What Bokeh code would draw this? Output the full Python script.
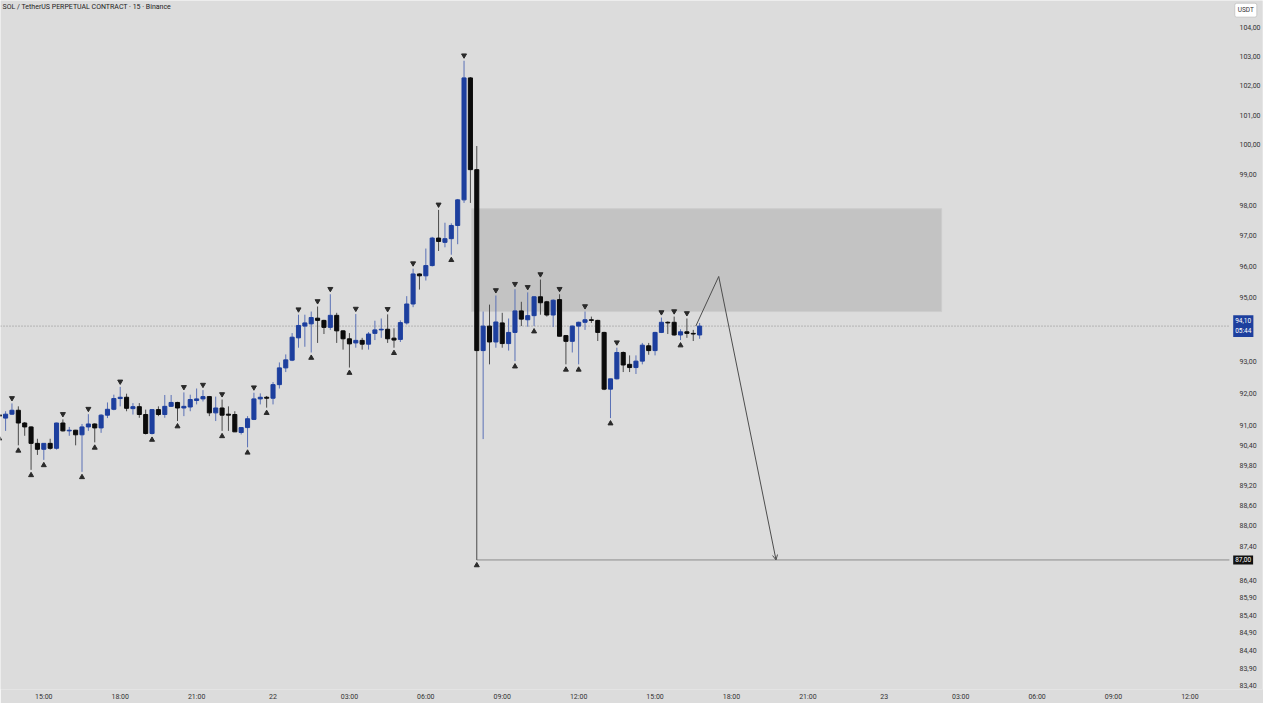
from bokeh.plotting import figure
from bokeh.models import FixedTicker, CustomJSTickFormatter, Label, Arrow, OpenHead, ColumnDataSource
from bokeh.embed import file_html
from bokeh.resources import INLINE

# ---------------- data ----------------
title_text = "SOL / TetherUS PERPETUAL CONTRACT \u00b7 15 \u00b7 Binance"
first_candle_hour = 13.25      # hours since 21st 00:00 (21st 13:15)
candle_step = 0.25             # 15 minutes

opens = [91.34, 91.24, 91.36, 91.48, 91.09, 90.97, 90.47, 90.29, 90.47, 90.32,
         91.09, 90.85, 90.87, 90.73, 90.97, 91.06, 90.94, 91.33, 91.51, 91.84,
         91.88, 91.53, 91.59, 91.35, 90.77, 91.50, 91.35, 91.60, 91.72, 91.55,
         91.58, 91.78, 91.83, 91.90, 91.40, 91.55, 91.36, 91.35, 90.80, 90.95,
         91.20, 91.83, 91.88, 91.85, 92.27, 92.79, 93.03, 93.73, 94.10, 94.17,
         94.35, 94.28, 94.06, 94.44, 93.95, 93.70, 93.57, 93.65, 93.53, 93.87,
         93.98, 94.00, 93.72, 93.68, 94.20, 94.80, 95.76, 95.70, 96.03, 96.92,
         96.78, 96.90, 97.33, 98.17, 102.27, 99.17, 93.33, 94.10, 93.60, 94.20,
         93.55, 93.90, 94.58, 94.30, 94.43, 95.03, 94.87, 94.45, 94.94, 93.80,
         93.62, 94.10, 94.22, 94.30, 94.28, 93.90, 92.13, 92.45, 93.27, 92.90,
         92.80, 93.00, 93.48, 93.33, 93.90, 94.22, 94.22, 93.82, 93.92, 93.87,
         93.82]
highs = [91.40, 91.45, 91.69, 91.60, 91.12, 90.99, 90.61, 90.47, 90.61, 91.10,
         91.20, 90.97, 90.88, 91.06, 91.36, 91.08, 91.36, 91.72, 91.96, 92.20,
         91.99, 91.70, 91.70, 91.50, 91.50, 91.60, 91.95, 91.95, 91.74, 92.03,
         91.96, 92.15, 92.10, 91.92, 91.90, 91.81, 91.60, 91.45, 90.96, 91.30,
         92.02, 92.00, 91.92, 92.35, 92.96, 93.21, 93.88, 94.46, 94.46, 94.56,
         94.72, 94.30, 95.11, 94.52, 93.97, 93.88, 94.48, 93.73, 93.91, 94.27,
         94.34, 94.47, 94.03, 94.28, 95.05, 95.93, 95.78, 96.58, 96.96, 97.84,
         97.42, 97.40, 98.20, 102.86, 102.30, 99.96, 94.56, 94.78, 95.07, 94.52,
         94.34, 95.27, 94.87, 95.17, 95.05, 95.58, 94.90, 94.95, 95.11, 93.82,
         94.12, 94.24, 94.56, 94.40, 94.30, 93.92, 92.45, 93.42, 93.30, 93.18,
         93.18, 93.57, 93.57, 93.92, 94.37, 94.25, 94.40, 94.00, 94.34, 93.98,
         94.20]
lows = [90.78, 90.85, 91.34, 90.41, 90.70, 89.67, 90.12, 89.97, 90.28, 90.28,
        90.83, 90.70, 90.41, 89.61, 90.85, 90.50, 90.79, 91.24, 91.48, 91.60,
        91.45, 91.35, 91.25, 90.74, 90.74, 91.30, 91.25, 91.58, 91.15, 91.30,
        91.45, 91.66, 91.75, 91.30, 91.15, 90.85, 90.85, 90.82, 90.74, 90.35,
        91.18, 91.66, 91.56, 91.66, 92.15, 92.66, 93.00, 93.42, 93.45, 93.27,
        93.57, 93.85, 93.98, 93.57, 93.36, 92.80, 93.42, 93.36, 93.36, 93.66,
        93.73, 93.57, 93.42, 93.60, 94.15, 94.70, 95.26, 95.55, 96.00, 96.50,
        96.62, 96.38, 96.72, 98.07, 98.07, 87.00, 90.60, 92.90, 93.42, 93.42,
        93.33, 93.00, 94.10, 94.08, 94.10, 94.46, 94.40, 94.07, 93.78, 92.90,
        93.27, 92.90, 93.98, 94.20, 93.63, 92.10, 91.24, 92.43, 92.66, 92.66,
        92.60, 92.90, 93.20, 93.18, 93.88, 93.85, 93.80, 93.66, 93.73, 93.63,
        93.70]
closes = [91.30, 91.36, 91.48, 91.09, 90.97, 90.47, 90.29, 90.47, 90.32, 91.09,
          90.85, 90.87, 90.73, 90.97, 91.06, 90.94, 91.33, 91.51, 91.84, 91.88,
          91.54, 91.59, 91.35, 90.77, 91.50, 91.35, 91.60, 91.72, 91.55, 91.60,
          91.81, 91.83, 91.90, 91.40, 91.55, 91.33, 91.33, 90.82, 90.95, 91.22,
          91.83, 91.88, 91.85, 92.27, 92.79, 93.04, 93.75, 94.12, 94.20, 94.37,
          94.28, 94.06, 94.44, 93.95, 93.70, 93.54, 93.65, 93.53, 93.85, 93.98,
          94.00, 93.70, 93.66, 94.21, 94.80, 95.76, 95.70, 96.03, 96.92, 96.81,
          96.90, 97.33, 98.17, 102.27, 99.17, 93.33, 94.10, 93.60, 94.23, 93.55,
          93.90, 94.58, 94.32, 94.43, 95.03, 94.84, 94.45, 94.92, 93.78, 93.62,
          94.10, 94.22, 94.30, 94.28, 93.90, 92.13, 92.45, 93.27, 92.88, 92.80,
          93.00, 93.50, 93.33, 93.90, 94.22, 94.20, 93.82, 93.92, 93.87, 93.85,
          94.10]

# candle indices carrying swing markers
swing_high_idx = [2, 10, 14, 19, 29, 32, 35, 40, 47, 50, 52, 56, 61, 65, 69, 73,
                  78, 81, 83, 85, 88, 92, 97, 104, 106, 108]
swing_low_idx = [0, 3, 5, 7, 13, 15, 24, 28, 35, 39, 42, 49, 55, 62, 71, 75, 81,
                 84, 89, 91, 96, 107]

# supply zone (hours, prices)
zone_left, zone_right = 31.8, 50.25
zone_bottom, zone_top = 94.56, 97.88
# target level line
target_price = 87.0
target_start = 32.0
# projected path (hours, prices)
path_x = [40.6, 41.5, 43.75]
path_y = [94.1, 95.68, 87.0]

last_price_text = "94,10\n05:44"
target_text = "87,00"

y_ticks = [104, 103, 102, 101, 100, 99, 98, 97, 96, 95, 93, 92, 91, 90.4, 89.8,
           89.2, 88.6, 88, 87.4, 86.4, 85.9, 85.4, 84.9, 84.4, 83.9, 83.4]
y_labels = ["104,00", "103,00", "102,00", "101,00", "100,00", "99,00", "98,00",
            "97,00", "96,00", "95,00", "93,00", "92,00", "91,00", "90,40", "89,80",
            "89,20", "88,60", "88,00", "87,40", "86,40", "85,90", "85,40", "84,90",
            "84,40", "83,90", "83,40"]
x_ticks = [15, 18, 21, 24, 27, 30, 33, 36, 39, 42, 45, 48, 51, 54, 57, 60]
x_labels = ["15:00", "18:00", "21:00", "22", "03:00", "06:00", "09:00", "12:00",
            "15:00", "18:00", "21:00", "23", "03:00", "06:00", "09:00", "12:00"]

# ---------------- layout / styling ----------------
BG = "#dcdcdc"
UP = "#1d3f9e"
DOWN = "#0b0b0b"
UP_WICK = "#5a71b6"
DOWN_WICK = "#4a4a4a"
FONT = "Roboto"
X_START, X_END = 13.3, 62.85     # frame spans the price-scale column too
PANE_RIGHT = 61.55               # right edge of the chart pane
BADGE_X = 61.70                  # left edge of price-scale badges
Y_START, Y_END = 83.30, 104.96

times = [first_candle_hour + k * candle_step for k in range(len(opens))]

p = figure(width=1263, height=703, y_axis_type="log",
           x_range=(X_START, X_END), y_range=(Y_START, Y_END),
           output_backend="svg", toolbar_location=None, y_axis_location="right",
           background_fill_color=BG, border_fill_color=BG, min_border=0)
p.outline_line_color = None
p.grid.visible = False

for ax in (p.xaxis[0], p.yaxis[0]):
    ax.axis_line_color = None
    ax.major_tick_line_color = None
    ax.minor_tick_line_color = None
    ax.major_tick_out = 0
    ax.major_tick_in = 0
    ax.minor_tick_out = 0
    ax.minor_tick_in = 0
    ax.major_label_text_font_size = "7px"
    ax.major_label_text_color = "#333333"
    ax.major_label_text_font = FONT

LOOKUP = """
const i = tk.findIndex(t => Math.abs(t - tick) < 1e-6);
return i >= 0 ? lb[i] : "";
"""
p.yaxis.major_label_standoff = -23   # draw price labels in the price-scale column
p.xaxis.major_label_standoff = 3
p.yaxis.ticker = FixedTicker(ticks=y_ticks)
p.yaxis.formatter = CustomJSTickFormatter(args=dict(tk=y_ticks, lb=y_labels), code=LOOKUP)
p.xaxis.ticker = FixedTicker(ticks=x_ticks)
p.xaxis.formatter = CustomJSTickFormatter(args=dict(tk=x_ticks, lb=x_labels), code=LOOKUP)

# zone
p.quad(left=[zone_left], right=[zone_right], bottom=[zone_bottom], top=[zone_top],
       fill_color="#c3c3c3", line_color="#cdcdcd", line_width=1)

# last price dotted line
p.line(x=[X_START, PANE_RIGHT], y=[closes[-1], closes[-1]], line_color="#8a8a8a",
       line_dash="1 2", line_width=1)

# target line
p.line(x=[target_start, PANE_RIGHT], y=[target_price, target_price],
       line_color="#8c8c8c", line_width=1)

# candles
up = [c >= o for o, c in zip(opens, closes)]
def src(mask):
    idx = [k for k in range(len(opens)) if mask[k]]
    return ColumnDataSource(dict(
        x=[times[k] for k in idx],
        top=[max(opens[k], closes[k]) for k in idx],
        bottom=[min(opens[k], closes[k]) for k in idx],
        high=[highs[k] for k in idx],
        low=[lows[k] for k in idx]))

s_up = src(up)
s_dn = src([not u for u in up])
p.segment(x0="x", y0="high", x1="x", y1="low", source=s_up, line_color=UP_WICK, line_width=1)
p.segment(x0="x", y0="high", x1="x", y1="low", source=s_dn, line_color=DOWN_WICK, line_width=1)
p.vbar(x="x", width=0.16, top="top", bottom="bottom", source=s_up,
       fill_color=UP, line_color=UP, line_width=1)
p.vbar(x="x", width=0.16, top="top", bottom="bottom", source=s_dn,
       fill_color=DOWN, line_color=DOWN, line_width=1)

# swing markers (placed a few pixels beyond the wick tip)
off = 1.0018
p.scatter(x=[times[k] for k in swing_high_idx], y=[highs[k] * off for k in swing_high_idx],
          marker="inverted_triangle", size=5, fill_color="#2a2a2a", line_color="#2a2a2a")
p.scatter(x=[times[k] for k in swing_low_idx], y=[lows[k] / off for k in swing_low_idx],
          marker="triangle", size=5, fill_color="#2a2a2a", line_color="#2a2a2a")

# projected path
p.line(x=path_x[:2], y=path_y[:2], line_color="#4d4d4d", line_width=1)
p.add_layout(Arrow(end=OpenHead(size=5, line_color="#4d4d4d", line_width=1),
                   x_start=path_x[1], y_start=path_y[1], x_end=path_x[2], y_end=path_y[2],
                   line_color="#4d4d4d", line_width=1))

# header
p.add_layout(Label(x=X_START + 0.08, y=104.72, text=title_text,
                   text_font=FONT, text_font_size="7px", text_color="#222222",
                   text_baseline="middle"))

# price-scale badges
p.add_layout(Label(x=BADGE_X + 0.06, y=104.62, text="USDT",
                   text_font=FONT, text_font_size="6.5px", text_color="#333333",
                   text_baseline="middle", background_fill_color="white",
                   border_line_color="#c8c8c8", padding=3, border_radius=2))
p.add_layout(Label(x=BADGE_X, y=closes[-1], text=last_price_text,
                   text_font=FONT, text_font_size="6.5px", text_color="white",
                   text_baseline="middle", background_fill_color=UP, padding=2))
p.add_layout(Label(x=BADGE_X, y=target_price, text=target_text,
                   text_font=FONT, text_font_size="6.5px", text_color="white",
                   text_baseline="middle", background_fill_color="#111111", padding=2))

open("out.html", "w").write(file_html(p, INLINE))
